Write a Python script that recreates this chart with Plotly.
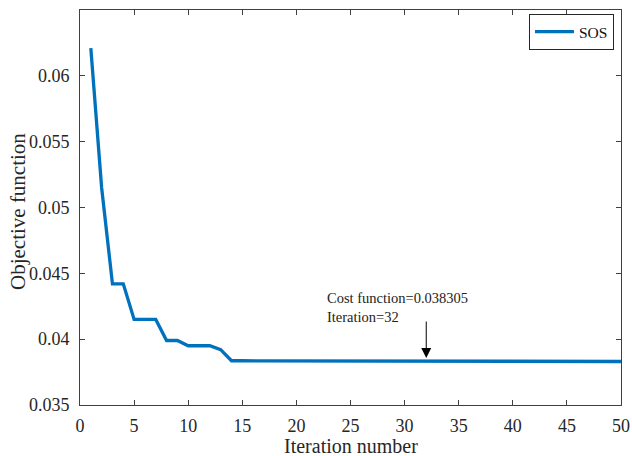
import plotly.graph_objects as go

iterations = list(range(1, 51))
cost = [0.0621, 0.0515, 0.0442, 0.0442, 0.0415, 0.0415, 0.0415, 0.0399, 0.0399, 0.0395,
        0.0395, 0.0395, 0.0392, 0.03836, 0.03836, 0.03836, 0.03836, 0.03836, 0.03836, 0.03836,
        0.03836, 0.03836, 0.03836, 0.03833, 0.03832, 0.03831] + [0.038305] * 24
x_ticks = [0, 5, 10, 15, 20, 25, 30, 35, 40, 45, 50]
y_ticks = [0.035, 0.04, 0.045, 0.05, 0.055, 0.06]
y_tick_text = ["0.035", "0.04", "0.045", "0.05", "0.055", "0.06"]
best_iter = 32
best_cost = 0.038305
x_title = "Iteration number"
y_title = "Objective function"

font = "Liberation Serif"
axcol = "#404040"
txtcol = "#262626"

fig = go.Figure()
fig.add_trace(go.Scatter(x=iterations, y=cost, mode="lines", name="SOS",
                         line=dict(color="#0072BD", width=3.3)))

fig.add_annotation(x=best_iter, y=best_cost + 0.00026, xref="x", yref="y",
                   ax=0, ay=-38, axref="pixel", ayref="pixel", text="",
                   showarrow=True, arrowhead=2, arrowsize=2, arrowwidth=1, arrowcolor="black")
fig.add_annotation(x=22.6, y=0.04242, xref="x", yref="y", xanchor="left", yanchor="middle",
                   align="left", showarrow=False,
                   text=f"Cost function={best_cost}<br>Iteration={best_iter}",
                   font=dict(family=font, size=14.5, color="#222"))

# axis titles
fig.add_annotation(x=0.5, y=-0.104, xref="paper", yref="paper", xanchor="center", yanchor="middle",
                   showarrow=False, text=x_title, font=dict(family=font, size=20, color=txtcol))
fig.add_annotation(x=-0.1146, y=0.4886, xref="paper", yref="paper", xanchor="center", yanchor="middle",
                   textangle=-90, showarrow=False, text=y_title,
                   font=dict(family=font, size=21, color=txtcol))

fig.update_layout(
    width=632, height=456,
    margin=dict(l=80, r=11, t=10, b=51, autoexpand=False),
    paper_bgcolor="white", plot_bgcolor="white",
    font=dict(family=font, color=txtcol),
    showlegend=True,
    legend=dict(x=0.987, y=0.99, xanchor="right", yanchor="top",
                bgcolor="white", bordercolor="#262626", borderwidth=1,
                font=dict(family=font, size=15.5, color="#111"),
                itemwidth=39, tracegroupgap=0),
)
fig.update_xaxes(range=[0, 50], tickvals=x_ticks, ticks="inside", ticklen=5,
                 tickcolor=axcol, showline=True, linecolor=axcol, linewidth=1,
                 mirror="ticks", showgrid=False, zeroline=False, automargin=False,
                 ticklabelstandoff=4,
                 tickfont=dict(family=font, size=18, color=txtcol))
fig.update_yaxes(range=[0.035, 0.065], tickvals=y_ticks, ticktext=y_tick_text, ticks="inside",
                 ticklen=5, tickcolor=axcol, showline=True, linecolor=axcol, linewidth=1,
                 mirror="ticks", showgrid=False, zeroline=False, automargin=False,
                 ticklabelstandoff=6,
                 tickfont=dict(family=font, size=18, color=txtcol))

fig.write_html("out.html")
